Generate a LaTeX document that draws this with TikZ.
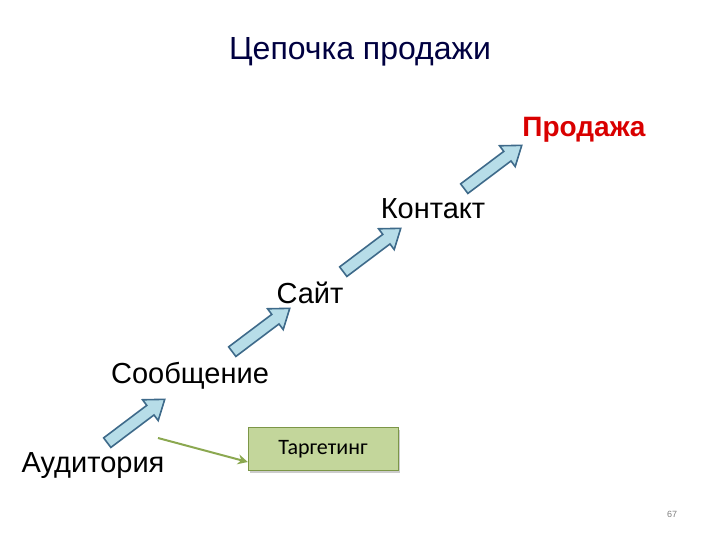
\documentclass[tikz,border=0pt]{standalone}
\usepackage{fontspec}
\setmainfont{Liberation Sans}
\newfontfamily\calfont{Carlito}
\usetikzlibrary{arrows.meta,shadows}
\definecolor{afill}{HTML}{B7DDE8}
\definecolor{aline}{HTML}{3E6A8A}
\definecolor{gfill}{HTML}{C3D69B}
\definecolor{gline}{HTML}{9BBB59}
\tikzset{blk/.style={draw=aline, fill=afill, line width=1.6pt, line join=miter},
lbl/.style={font=\fontsize{29}{34}\selectfont}}
\newcommand{\blkarrow}[2]{\begin{scope}[shift={(#1,#2)}, rotate=37]
\draw[blk] (-36,-6) -- (18,-6) -- (18,-13) -- (36,0) -- (18,13) -- (18,6) -- (-36,6) -- cycle;
\end{scope}}
\begin{document}
\begin{tikzpicture}[x=1pt,y=-1pt]
\useasboundingbox (0,0) rectangle (720,540);
\node[font=\fontsize{32}{36}\selectfont, text=black!75!blue] (title) at (360,52) {Цепочка продажи};
\node[font=\bfseries\fontsize{28}{32}\selectfont, text=red!85!black] (sale) at (584,130) {Продажа};
\node[lbl] (contact) at (433,209) {Контакт};
\node[lbl] (site) at (310,293) {Сайт};
\node[lbl] (msg) at (190,376) {Сообщение};
\node[lbl] (aud) at (93,466) {Аудитория};
\blkarrow{136}{421}
\blkarrow{261}{330}
\blkarrow{372}{250}
\blkarrow{493}{167}
\node[draw=gline!80!black, fill=gfill, drop shadow={opacity=0.4,shadow xshift=2pt,shadow yshift=-2pt}, minimum width=150pt, minimum height=43pt, font=\calfont\fontsize{22}{26}\selectfont] (tg) at (323,449) {Таргетинг};
\coordinate (gs) at (158,438);
\draw[gline!90!black, line width=2pt, -{Stealth[length=10pt,width=10pt]}] (gs) -- (tg.west |- 0,462);
\node[font=\fontsize{9}{10}\selectfont, text=gray] (pg) at (672,514) {67};
\end{tikzpicture}
\end{document}
